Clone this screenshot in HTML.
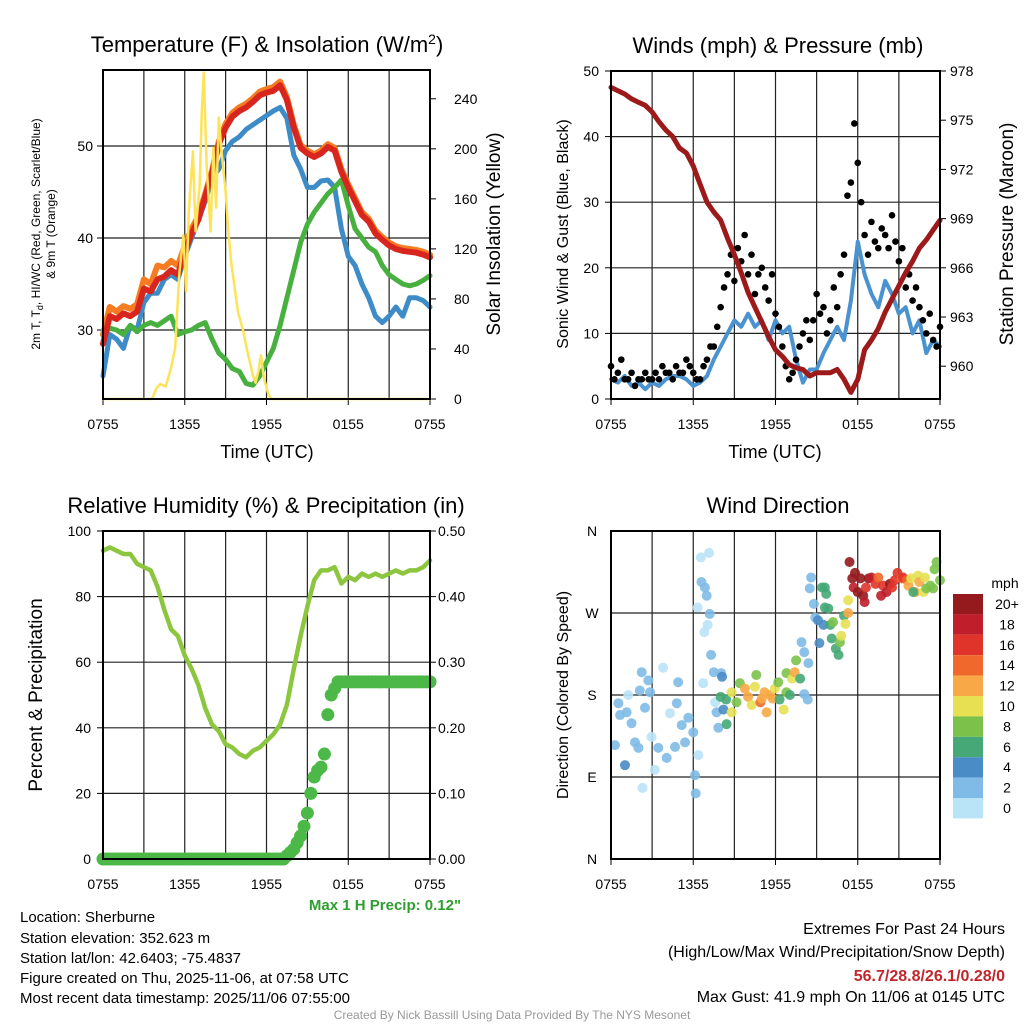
<!DOCTYPE html>
<html><head><meta charset="utf-8"><style>
body{margin:0;background:#fff;}
svg{display:block;font-family:"Liberation Sans",Arial,sans-serif;}
</style></head><body>
<svg id="c" width="1024" height="1024" viewBox="0 0 1024 1024" xmlns="http://www.w3.org/2000/svg">
<rect width="1024" height="1024" fill="#fff"/>
<g id="g1"></g>
<g id="g2"></g>
<g id="g3"></g>
<g id="g4"></g>
<g font-size="15" fill="#000">
<text x="20" y="922">Location: Sherburne</text>
<text x="20" y="943">Station elevation: 352.623 m</text>
<text x="20" y="963">Station lat/lon: 42.6403; -75.4837</text>
<text x="20" y="983">Figure created on Thu, 2025-11-06, at 07:58 UTC</text>
<text x="20" y="1003">Most recent data timestamp: 2025/11/06 07:55:00</text>
</g>
<text x="512" y="1019" font-size="12" fill="#999" text-anchor="middle">Created By Nick Bassill Using Data Provided By The NYS Mesonet</text>
<g font-size="16" text-anchor="end">
<text x="1005" y="934">Extremes For Past 24 Hours</text>
<text x="1005" y="957">(High/Low/Max Wind/Precipitation/Snow Depth)</text>
<text x="1005" y="981" fill="#c0272d" font-weight="bold">56.7/28.8/26.1/0.28/0</text>
<text x="1005" y="1002">Max Gust: 41.9 mph On 11/06 at 0145 UTC</text>
</g>
<text x="385" y="910" font-size="15" font-weight="bold" fill="#2e9e2e" text-anchor="middle">Max 1 H Precip: 0.12"</text>
</svg>
<script>
// ---------- data (half-hourly unless stated) ----------
const temp2m = [28.5,31.5,31.2,31.8,31.5,32,34.5,34.2,35.5,35.8,36.5,36,38.5,40.5,42,44.5,47,50.2,52,53.2,53.8,54.2,54.8,55.5,55.8,56,56.6,55,52,49.8,49.2,48.8,49.2,49.9,49.5,47.2,45.5,44,42.5,41.8,40.5,39.8,39.2,38.8,38.6,38.5,38.4,38.2,37.9];
const temp9m = [29.5,32.5,32,32.6,32.3,32.8,35.5,35,37,36.8,37.5,37,39.2,41,42.4,44.8,47.3,50.5,52.4,53.6,54.2,54.6,55.2,55.9,56.2,56.4,57,55.3,52.3,50.1,49.5,49.1,49.5,50.2,49.8,47.5,45.8,44.3,42.8,42.1,40.8,40.1,39.5,39.1,38.9,38.8,38.7,38.5,38.2];
const windChill = [25,29.5,29,28,30.5,30,33,34,34,35.5,36,35.5,38,40,42,44,46.5,47.5,49.5,50.5,51,51.8,52.3,52.8,53.3,53.8,54.2,53,49,47.5,45.5,45.5,46.2,46.3,45.5,41,38,37,35,33.5,31.5,30.8,31.5,32.5,31.5,33.5,33.5,33.2,32.5];
const dewPoint = [29.5,30.2,30,29.5,30.5,29.8,30.5,30.8,30.5,31,31.5,29.5,29.8,30,30.5,30.8,29,27.5,26.8,25.8,25.5,24.2,24,25,26.5,28,30.5,33.5,36.5,39.5,41.5,42.8,43.8,44.8,45.5,46.3,43.5,41,40,39,38.5,37,36,35.5,35,34.8,35,35.4,35.9];
const solarHours = [0,3.6,3.9,4.2,4.6,5.0,5.3,5.6,5.9,6.1,6.3,6.6,6.8,7.1,7.25,7.4,7.6,7.9,8.1,8.3,8.5,8.7,9.0,9.2,9.4,9.6,9.9,10.3,10.6,11.0,11.2,11.4,11.6,11.8,12.1,12.3,24];
const solarValues = [0,0,8,12,10,25,41,100,131,86,150,198,134,171,230,261,187,134,201,153,225,198,166,134,110,94,70,54,38,19,13,22,35,17,5,0,0];
const sonicWind = [3,2.5,3.5,2,2.5,1.5,2.5,2,3,3.5,3.5,3,2,2.5,3.5,6,8,10,12,11,13,11,12,9,12,10,11,6,2.5,4.5,4.5,7,9,11,9,15,24,19,16,14,18,16,13,14,10,12,7,9,8];
// gusts every 15 minutes
const windGust = [5,3,4,6,3,3,4,2,3,3,4,3,3,4,3,5,4,4,3,5,4,4,6,5,4,3,3,5,6,8,8,11,14,17,19,22,18,23,21,25,19,22,16,19,20,17,15,19,13,11,8,5,3,4,6,8,10,12,9,12,16,13,14,10,12,17,14,19,22,31,33,42,36,30,25,22,27,24,23,26,25,23,28,24,21,23,17,19,15,17,14,12,10,13,9,8,11];
const pressure = [977,976.8,976.6,976.3,976.1,975.9,975.5,974.9,974.4,974,973.3,973,972.2,971.1,970,969.4,968.9,967.8,966.8,965.7,964.5,963.6,962.7,961.8,961,960.6,960.1,959.9,959.8,959.4,959.6,959.6,959.6,959.8,959.2,958.4,959.2,961,961.6,962.3,963.3,964.1,964.9,965.7,966.4,967.2,967.7,968.3,968.9];
const relHumidity = [94,95,94,93,93,90,89,88,83,76,70,68,62,58,53,46,41,39,35,34,32,31,33,34,36,38,41,47,58,68,77,85,88,88,89,84,86,85,87,86,87,86,87,88,87,88,88,89,91];
// precipitation every 15 minutes
const precip = [0,0,0,0,0,0,0,0,0,0,0,0,0,0,0,0,0,0,0,0,0,0,0,0,0,0,0,0,0,0,0,0,0,0,0,0,0,0,0,0,0,0,0,0,0,0,0,0,0,0,0,0,0,0,0.005,0.01,0.015,0.025,0.035,0.05,0.07,0.1,0.125,0.135,0.14,0.16,0.22,0.25,0.26,0.27,0.27,0.27,0.27,0.27,0.27,0.27,0.27,0.27,0.27,0.27,0.27,0.27,0.27,0.27,0.27,0.27,0.27,0.27,0.27,0.27,0.27,0.27,0.27,0.27,0.27,0.27,0.27];
const dirHours = [0.29,0.54,0.66,1.02,1.14,1.26,1.5,1.75,2,2.1,2.24,2.3,2.48,2.72,2.85,2.96,3.2,3.45,3.8,4.06,4.3,4.67,4.8,4.9,5.16,5.4,5.64,6.0,6.13,6.18,6.37,6.32,6.56,7.15,6.6,6.85,6.98,7.2,7.05,6.81,7.3,7.5,8.04,8.1,6.73,7.6,7.7,7.83,8.2,8.43,8.0,8.4,8.8,8.8,9.16,9.4,9.77,10,10.26,10.5,10.6,10.9,11,11.2,11.35,11.6,11.8,11.95,12.2,12.6,12.3,12.8,12.8,13.05,13.2,13.4,13.5,13.8,13.9,14.1,14.1,14.35,14.4,14.5,14.6,14.8,14.9,15.1,15.2,15.4,15.6,15.7,15.6,15.85,15.5,16,16.2,16.1,16.4,16.6,16.7,16.8,17,17.1,17.3,17.3,17.4,17.6,17.7,17.8,18.0,18.2,18.4,18.5,18.6,18.8,19,19.3,19.5,19.7,19.85,20.1,20.35,20.5,20.7,20.9,21.2,21.3,21.6,21.7,21.9,22.2,22.4,22.5,22.8,22.9,23.0,23.3,23.5,23.6,23.75,24,22.05];
const dirDegrees = [125,171,158,103,161,180,149,128,122,185,205,78,166,196,183,134,98,122,210,111,160,123,171,194,147,128,155,139,92,72,114,276,331,336,304,298,289,269,257,249,224,205,204,200,193,172,161,144,164,148,178,175,183,161,172,193,187,178,169,189,202,172,176,183,161,180,176,187,194,164,175,183,204,180,198,205,218,198,238,227,181,175,215,297,309,280,265,262,237,298,298,291,276,275,257,257,260,242,231,224,238,245,267,258,270,284,326,308,298,314,293,308,289,282,298,308,309,302,309,289,300,293,302,298,306,314,308,309,306,300,308,293,311,304,293,309,297,300,297,318,326,306,293];
const dirSpeed = [3,2,2,4,2,1,2,2,2,2,2,1,2,2,2,1,1,2,1,2,1,2,2,2,2,2,2,2,3,3,1,1,1,1,2,2,2,2,1,1,2,2,2,4,1,1,2,2,4,6,7,7,10,10,8,8,12,12,10,10,8,14,12,12,12,12,12,10,8,10,6,8,8,6,10,12,8,6,3,2,3,2,2,2,2,2,3,4,4,6,6,6,6,6,4,7,8,6,6,7,8,10,7,10,12,10,20,20,18,20,20,20,20,18,16,20,18,16,14,18,16,18,20,16,16,16,14,16,14,12,10,12,10,12,10,10,8,8,8,8,8,8,6];
const tempTicks = [30,40,50];
const solarTicks = [0,40,80,120,160,200,240];
const windTicks = [0,10,20,30,40,50];
const pressTicks = [960,963,966,969,972,975,978];
const rhTicks = [0,20,40,60,80,100];
const precipTicks = [0,0.1,0.2,0.3,0.4,0.5];
const dirTicks = [0,90,180,270,360];
const dirLabels = ['N','E','S','W','N'];
const timeLabels = ['0755','1355','1955','0155','0755'];
const speedBins = ['0','2','4','6','8','10','12','14','16','18','20+'];
const speedColors = ['#b9e3f6','#7fbbe6','#4a8cc6','#45a876','#7cc24a','#e6e052','#f8a846','#f0682c','#e0342a','#bf1e2a','#941a1d'];

const NS='http://www.w3.org/2000/svg';
function mk(parent,tag,attrs){const e=document.createElementNS(NS,tag);for(const k in attrs)e.setAttribute(k,attrs[k]);parent.appendChild(e);return e;}
function scale(d0,d1,r0,r1){return v=>r0+(v-d0)*(r1-r0)/(d1-d0);}

function frame(g,X0,X1,Y0,Y1,title,tx){
  const xs=scale(0,24,X0,X1);
  for(let h=3;h<24;h+=3){const l=mk(g,'line',{x1:xs(h),x2:xs(h),y1:Y0,y2:Y1,stroke:'#222','stroke-width':1.2});
    
    }
  timeLabels.forEach((t,i)=>{const x=xs(i*6);
    const tk=mk(g,'line',{x1:x,x2:x,y1:Y1,y2:Y1+6,stroke:'#000','stroke-width':1});
    
    
    const te=mk(g,'text',{x:x,y:Y1+30,'font-size':14,'text-anchor':'middle'});te.textContent=t;
    
    });
  const tt=mk(g,'text',{x:tx,y:Y0-18,'font-size':22,'text-anchor':'middle'});tt.innerHTML=title;
  
  
  return xs;
}
function border(g,X0,X1,Y0,Y1){const r=mk(g,'rect',{x:X0,y:Y0,width:X1-X0,height:Y1-Y0,fill:'none',stroke:'#000','stroke-width':2});
  
  }
function hgrid(g,vals,ys,X0,X1,labelX,anchor,fmt,name,grid){
  vals.forEach(v=>{const y=ys(v);
    if(grid){const l=mk(g,'line',{x1:X0,x2:X1,y1:y,y2:y,stroke:'#222','stroke-width':1.2});
      
      }
    const t=mk(g,'text',{x:labelX,y:y+5,'font-size':14,'text-anchor':anchor});t.textContent=fmt(v);
    
    
    const tk=mk(g,'line',{x1:anchor==='end'?X0-6:X1,x2:anchor==='end'?X0:X1+6,y1:y,y2:y,stroke:'#000'});
    
    });
}
function path(g,xsArr,vals,xs,ys,color,w,name){
  let d='';vals.forEach((v,i)=>{d+=(i?'L':'M')+xs(xsArr[i]).toFixed(1)+','+ys(v).toFixed(1);});
  const p=mk(g,'path',{d:d,fill:'none',stroke:color,'stroke-width':w,'stroke-linejoin':'round','stroke-linecap':'round'});
  
  
}
const half=temp2m.map((_,i)=>i*0.5);
const quarter=windGust.map((_,i)=>i*0.25);
function vlabel(g,x,y,size,txt,name){const t=mk(g,'text',{x:x,y:y,'font-size':size,'text-anchor':'middle',transform:`rotate(-90 ${x} ${y})`});t.innerHTML=txt;
  
  }

// Panel 1
(function(){
  const g=document.getElementById('g1');const X0=103,X1=430,Y0=70,Y1=399;
  const xs=frame(g,X0,X1,Y0,Y1,'Temperature (F) &amp; Insolation (W/m<tspan dy="-8" font-size="14">2</tspan><tspan dy="8">)</tspan>',267);
  const ys=scale(22.5,58.26,Y1,Y0);const ys2=scale(0,263,Y1,Y0);
  hgrid(g,tempTicks,ys,X0,X1,X0-10,'end',v=>v,'temp-tick-label',true);
  hgrid(g,solarTicks,ys2,X0,X1,X1+24,'start',v=>v,'solar-tick-label',false);
  path(g,half,windChill,xs,ys,'#3d8bc7',5,'wind-chill-line');
  path(g,half,dewPoint,xs,ys,'#47b03f',5,'dew-point-line');
  path(g,half,temp9m,xs,ys,'#f57c22',6,'temp-9m-line');
  path(g,half,temp2m,xs,ys,'#d8261f',6,'temp-2m-line');
  path(g,solarHours,solarValues,xs,ys2,'#fde35a',2.5,'solar-insolation-line');
  border(g,X0,X1,Y0,Y1);
  const t=mk(g,'text',{x:267,y:458,'font-size':18,'text-anchor':'middle'});t.textContent='Time (UTC)';
  
  
  vlabel(g,40,234,12,'2m T, T<tspan dy="3" font-size="9">d</tspan><tspan dy="-3">, HI/WC (Red, Green, Scarlet/Blue)</tspan>','y-axis-title');
  vlabel(g,55,234,12,'&amp; 9m T (Orange)','y-axis-title-line2');
  vlabel(g,500,234,19,'Solar Insolation (Yellow)','right-axis-title');
})();

// Panel 2
(function(){
  const g=document.getElementById('g2');const X0=611,X1=940,Y0=71,Y1=399;
  const xs=frame(g,X0,X1,Y0,Y1,'Winds (mph) &amp; Pressure (mb)',778);
  const ys=scale(0,50,Y1,Y0);const ys2=scale(958,978,Y1,Y0);
  hgrid(g,windTicks,ys,X0,X1,X0-12,'end',v=>v,'wind-tick-label',true);
  hgrid(g,pressTicks,ys2,X0,X1,X1+10,'start',v=>v,'pressure-tick-label',false);
  path(g,half,sonicWind,xs,ys,'#4a93d0',4,'sonic-wind-line');
  windGust.forEach((v,i)=>{const c=mk(g,'circle',{cx:xs(quarter[i]),cy:ys(v),r:3.3,fill:'#000'});
    
    });
  path(g,half,pressure,xs,ys2,'#9c1a1a',5,'pressure-line');
  border(g,X0,X1,Y0,Y1);
  const t=mk(g,'text',{x:775,y:458,'font-size':18,'text-anchor':'middle'});t.textContent='Time (UTC)';
  
  
  vlabel(g,568,234,16,'Sonic Wind &amp; Gust (Blue, Black)','y-axis-title');
  vlabel(g,1013,234,19,'Station Pressure (Maroon)','right-axis-title');
})();

// Panel 3
(function(){
  const g=document.getElementById('g3');const X0=103,X1=430,Y0=531,Y1=859;
  const xs=frame(g,X0,X1,Y0,Y1,'Relative Humidity (%) &amp; Precipitation (in)',266);
  const ys=scale(0,100,Y1,Y0);const ys2=scale(0,0.5,Y1,Y0);
  hgrid(g,rhTicks,ys,X0,X1,X0-12,'end',v=>v,'rh-tick-label',true);
  hgrid(g,precipTicks,ys2,X0,X1,X1+8,'start',v=>v.toFixed(2),'precip-tick-label',false);
  path(g,half,relHumidity,xs,ys,'#8cc63f',4.5,'humidity-line');
  precip.forEach((v,i)=>{const c=mk(g,'circle',{cx:xs(quarter[i]),cy:ys2(v),r:6.5,fill:'#4cb848'});
    
    });
  border(g,X0,X1,Y0,Y1);
  vlabel(g,42,695,19,'Percent &amp; Precipitation','y-axis-title');
})();

// Panel 4
(function(){
  const g=document.getElementById('g4');const X0=611,X1=940,Y0=531,Y1=859;
  const xs=frame(g,X0,X1,Y0,Y1,'Wind Direction',778);
  const ys=scale(0,360,Y1,Y0);
  dirTicks.forEach((v,i)=>{const y=ys(v);
    const l=mk(g,'line',{x1:X0,x2:X1,y1:y,y2:y,stroke:'#222','stroke-width':1.2});
    
    
    const t=mk(g,'text',{x:592,y:y+5,'font-size':14,'text-anchor':'middle'});t.textContent=dirLabels[i];
    
    });
  dirDegrees.forEach((v,i)=>{const ci=Math.min(10,Math.floor(dirSpeed[i]/2));
    const c=mk(g,'circle',{cx:xs(dirHours[i]),cy:ys(v),r:5,fill:speedColors[ci],'fill-opacity':0.9});
    
    });
  border(g,X0,X1,Y0,Y1);
  vlabel(g,568,695,16,'Direction (Colored By Speed)','y-axis-title');
  const m=mk(g,'text',{x:1005,y:588,'font-size':14,'text-anchor':'middle'});m.textContent='mph';
  
  
  speedBins.forEach((b,i)=>{const k=10-i;const y=594+i*20.4;
    const r=mk(g,'rect',{x:953,y:y,width:30,height:20.4,fill:speedColors[k]});
    
    
    const t=mk(g,'text',{x:1007,y:y+15,'font-size':14,'text-anchor':'middle'});t.textContent=speedBins[k];
    
    });
})();
</script>
</body></html>
